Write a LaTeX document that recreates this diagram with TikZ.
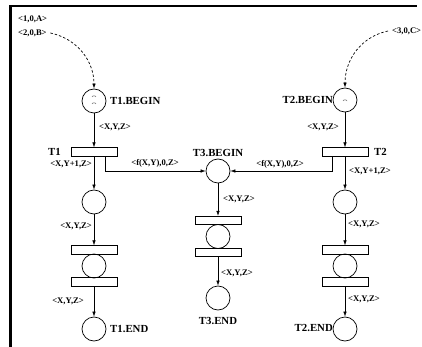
\documentclass[tikz,border=0pt]{standalone}
\usepackage{fontspec}
\setmainfont{Liberation Serif}
\usetikzlibrary{arrows.meta}
\begin{document}
\begin{tikzpicture}[x=1pt,y=-1pt,
  place/.style={draw,circle,minimum size=24pt,inner sep=0pt,line width=0.7pt},
  trans/.style={draw,rectangle,minimum width=46pt,minimum height=8.5pt,inner sep=0pt,line width=0.7pt},
  flow/.style={-{Latex[length=5pt,width=3.5pt]},line width=0.6pt},
  inflow/.style={-{Latex[length=5pt,width=3.5pt]},line width=0.7pt,dash pattern=on 2.5pt off 2pt},
  lbl/.style={font=\bfseries\fontsize{8.6}{9}\selectfont,inner sep=0pt},
  pname/.style={font=\bfseries\fontsize{10.8}{12}\selectfont,inner sep=0pt},
  tok/.style={line width=0.4pt,black!70},
]
\useasboundingbox (0,0) rectangle (422,347);
% frame
\draw[line width=2.6pt] (10.5,348) -- (10.5,6) -- (417,6);

% left branch
\node[place] (T1b) at (94,101) {};
\node[trans] (T1) at (94,152) {};
\node[place] (P1) at (94,202) {};
\node[trans] (R1a) at (94,250) {};
\node[place] (Q1) at (94,266) {};
\node[trans] (R1b) at (94,282) {};
\node[place] (T1e) at (94,329) {};

% middle branch
\node[place] (T3b) at (218,171) {};
\node[trans] (R3a) at (218,220.5) {};
\node[place] (Q3) at (218,236.5) {};
\node[trans] (R3b) at (218,252.5) {};
\node[place] (T3e) at (218,298) {};

% right branch
\node[place] (T2b) at (345,100) {};
\node[trans] (T2) at (345,152) {};
\node[place] (P2) at (345,202) {};
\node[trans] (R2a) at (345,250) {};
\node[place] (Q2) at (345,266) {};
\node[trans] (R2b) at (345,282) {};
\node[place] (T2e) at (345,329) {};

% tokens
\draw[tok] (92,97) arc (180:360:2 and 1.2);
\draw[tok] (92,104) arc (180:360:2 and 1.2);
\draw[tok] (343,101) arc (180:360:2 and 1.2);

% place and transition names
\node[pname,anchor=west] (nT1b) at (110,101) {T1.BEGIN};
\node[pname,anchor=east] (nT2b) at (333,100) {T2.BEGIN};
\node[pname,anchor=east] (nT1) at (61,152) {T1};
\node[pname,anchor=west] (nT2) at (374,152) {T2};
\node[pname] (nT3b) at (218,153) {T3.BEGIN};
\node[pname,anchor=west] (nT1e) at (110,329) {T1.END};
\node[pname,anchor=east] (nT2e) at (333,328) {T2.END};
\node[pname] (nT3e) at (218,321) {T3.END};

% initial tokens
\node[lbl,anchor=west] (i1) at (18,19.5) {<1,0,A>};
\node[lbl,anchor=west] (i2) at (18,33) {<2,0,B>};
\node[lbl,anchor=west] (i3) at (392,31) {<3,0,C>};
\draw[inflow] ([xshift=3.5pt]i2.east) to[out=-12,in=90] (T1b.north);
\draw[inflow] ([xshift=-4pt]i3.west) to[out=192,in=90] (T2b.north);

% arcs
\draw[flow] (T1b) -- (T1);
\draw[flow] (T1) -- (P1);
\draw[flow] (P1) -- (R1a);
\draw[flow] (R1b) -- (T1e);
\draw[flow] ([xshift=11pt]T1.south) |- (T3b.west);

\draw[flow] (T2b) -- (T2);
\draw[flow] (T2) -- (P2);
\draw[flow] (P2) -- (R2a);
\draw[flow] (R2b) -- (T2e);
\draw[flow] ([xshift=-13pt]T2.south) |- (T3b.east);

\draw[flow] (T3b) -- (R3a);
\draw[flow] (R3b) -- (T3e);

% arc inscriptions
\node[lbl,anchor=west] (a1) at (99,127) {<X,Y,Z>};
\node[lbl,anchor=east] (a2) at (92,164) {<X,Y+1,Z>};
\node[lbl] (a3) at (155,163) {<f(X,Y),0,Z>};
\node[lbl,anchor=east] (a4) at (92,226) {<X,Y,Z>};
\node[lbl,anchor=east] (a5) at (84,301) {<X,Y,Z>};

\node[lbl,anchor=east] (b1) at (339,127) {<X,Y,Z>};
\node[lbl,anchor=west] (b2) at (349,171) {<X,Y+1,Z>};
\node[lbl] (b3) at (280,164) {<f(X,Y),0,Z>};
\node[lbl,anchor=west] (b4) at (348,224) {<X,Y,Z>};
\node[lbl,anchor=west] (b5) at (348,299) {<X,Y,Z>};

\node[lbl,anchor=west] (c1) at (223,199) {<X,Y,Z>};
\node[lbl,anchor=west] (c2) at (221,273) {<X,Y,Z>};
\end{tikzpicture}
\end{document}
